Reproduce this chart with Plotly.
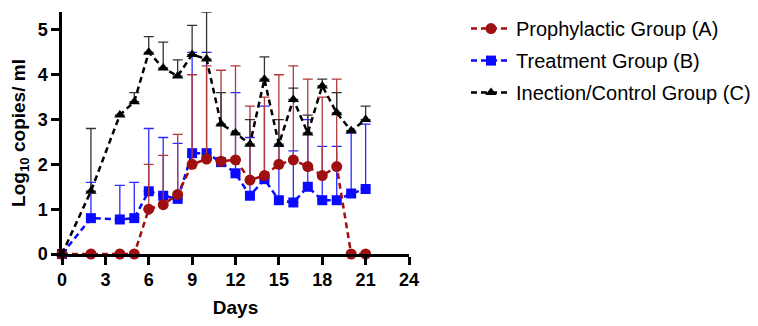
import plotly.graph_objects as go

days = [0, 2, 4, 5, 6, 7, 8, 9, 10, 11, 12, 13, 14, 15, 16, 17, 18, 19, 20, 21]

a_mean = [0, 0, 0, 0, 1.0, 1.1, 1.33, 2.0, 2.12, 2.07, 2.1, 1.65, 1.75, 2.0, 2.1, 1.95, 1.75, 1.95, 0, 0]
a_upper = [None, None, None, None, 2.0, 2.2, 2.67, 4.0, 4.2, 4.1, 4.2, 3.3, 3.5, 4.0, 4.2, 3.9, 3.5, 3.9, None, None]

b_mean = [0, 0.8, 0.77, 0.8, 1.4, 1.3, 1.23, 2.25, 2.25, 2.05, 1.8, 1.3, 1.67, 1.2, 1.15, 1.5, 1.2, 1.2, 1.35, 1.45]
b_upper = [None, 1.6, 1.53, 1.6, 2.8, 2.6, 2.47, 4.5, 4.5, None, 3.6, 2.6, 3.3, 2.4, 2.3, 3.0, 2.4, 2.4, 2.7, 2.9]

c_mean = [0, 1.4, 3.1, 3.4, 4.5, 4.15, 3.97, 4.45, 4.35, 2.9, 2.7, 2.45, 3.9, 2.45, 3.45, 2.7, 3.75, 3.15, 2.75, 3.0]
c_upper = [None, 2.8, None, 3.6, 4.85, 4.73, 4.33, 5.1, 5.4, 3.6, None, 3.0, 4.4, 3.0, 3.7, 3.1, 3.9, 3.6, None, 3.3]

x_ticks = [0, 3, 6, 9, 12, 15, 18, 21, 24]
y_ticks = [0, 1, 2, 3, 4, 5]

names = ["Prophylactic Group (A)", "Treatment Group (B)", "Inection/Control Group (C)"]


def err(mean, upper):
    return [None if u is None else u - m for m, u in zip(mean, upper)]


FONT = "Arial, Liberation Sans, sans-serif"

fig = go.Figure()

series = [
    # (name, mean, upper, line color, errcolor, symbol, size, rank)
    (names[1], b_mean, b_upper, "#0a0aff", "#2a2aff", "square", 10, 2),
    (names[0], a_mean, a_upper, "#a00f0f", "#b23a3a", "circle", 11, 1),
    (names[2], c_mean, c_upper, "#000000", "#333333", "triangle-up", 10, 3),
]

for name, mean, upper, col, ecol, sym, size, rank in series:
    fig.add_trace(go.Scatter(
        x=days, y=mean, name=name, mode="lines+markers",
        line=dict(color=col, width=2.5, dash="6px,4px"),
        marker=dict(color=col, symbol=sym, size=size, line=dict(width=0)),
        error_y=dict(type="data", symmetric=False, array=err(mean, upper),
                     arrayminus=[0] * len(mean), color=ecol, thickness=1.3, width=5),
        cliponaxis=False, legendrank=rank, legendgroup=name,
    ))

fig.update_layout(
    width=750, height=318,
    margin=dict(l=54, r=349, t=4, b=72, autoexpand=False),
    plot_bgcolor="white", paper_bgcolor="white",
    font=dict(family=FONT, color="black"),
    showlegend=True,
    legend=dict(x=2.0, y=1.012, xanchor="right", yanchor="top",
                font=dict(size=20, family=FONT), tracegroupgap=3,
                itemwidth=40,
                bgcolor="rgba(0,0,0,0)"),
)

fig.update_xaxes(
    range=[0, 24], tickvals=x_ticks, ticktext=[str(t) for t in x_ticks],
    showline=True, linecolor="black", linewidth=2.5,
    ticks="outside", ticklen=8, tickwidth=2.5, tickcolor="black",
    showgrid=False, zeroline=False, automargin=False,
    tickfont=dict(size=18, family=FONT, weight="bold"),
    title=dict(text="<b>Days</b>", font=dict(size=19, family=FONT), standoff=12),
)
fig.update_yaxes(
    range=[0, 5.4], tickvals=y_ticks, ticktext=[str(t) for t in y_ticks],
    showline=True, linecolor="black", linewidth=2.5,
    ticks="outside", ticklen=8, tickwidth=2.5, tickcolor="black",
    showgrid=False, zeroline=False, automargin=False,
    tickfont=dict(size=18, family=FONT, weight="bold"),
    title=dict(text="<b>Log<sub>10</sub> copies/ ml</b>", font=dict(size=19, family=FONT), standoff=8),
)

fig.write_html("out.html")
